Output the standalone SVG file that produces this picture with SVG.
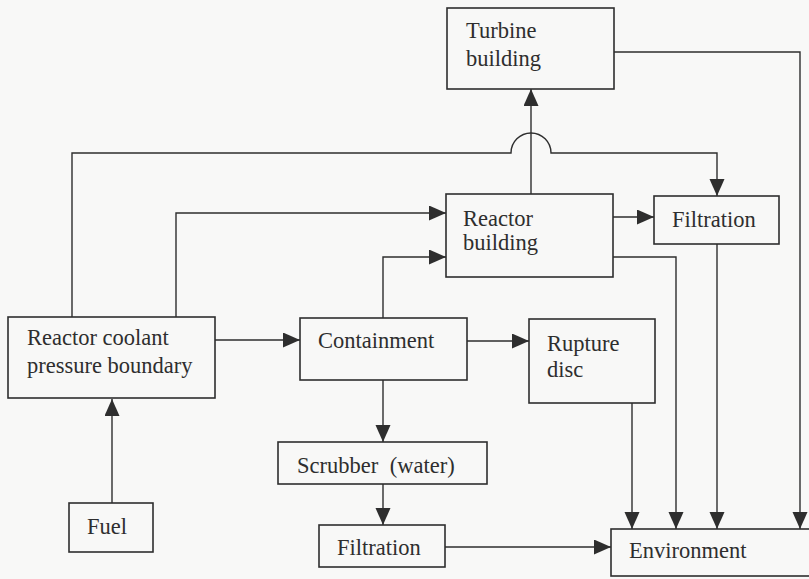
<svg xmlns="http://www.w3.org/2000/svg" width="809" height="579" viewBox="0 0 809 579">
<style>
.box{fill:none;stroke:#2e2e2e;stroke-width:1.6}
.ln{fill:none;stroke:#2e2e2e;stroke-width:1.4}
</style>
<defs>
<marker id="ah" markerUnits="userSpaceOnUse" markerWidth="18" markerHeight="16" refX="17" refY="7.5" orient="auto">
<path d="M0,0 L17,7.5 L0,15 Z" fill="#2e2e2e"/>
</marker>
</defs>
<rect x="0" y="0" width="809" height="579" fill="#f8f8f7"/>
<g id="connectors">
<path class="ln" d="M112,503 V399" marker-end="url(#ah)"/>
<path class="ln" d="M215,340 H300" marker-end="url(#ah)"/>
<path class="ln" d="M72,317 V153 H511 A20,20 0 0 1 551,153 H717 V196" marker-end="url(#ah)"/>
<path class="ln" d="M176,317 V213 H446" marker-end="url(#ah)"/>
<path class="ln" d="M383,318 V257 H446" marker-end="url(#ah)"/>
<path class="ln" d="M531,194 V89" marker-end="url(#ah)"/>
<path class="ln" d="M613,217 H654" marker-end="url(#ah)"/>
<path class="ln" d="M614,52 H800 V529" marker-end="url(#ah)"/>
<path class="ln" d="M613,257 H676 V529" marker-end="url(#ah)"/>
<path class="ln" d="M717,244 V529" marker-end="url(#ah)"/>
<path class="ln" d="M467,341 H529" marker-end="url(#ah)"/>
<path class="ln" d="M632,403 V529" marker-end="url(#ah)"/>
<path class="ln" d="M383,380 V442" marker-end="url(#ah)"/>
<path class="ln" d="M383,484 V525" marker-end="url(#ah)"/>
<path class="ln" d="M445,547 H611" marker-end="url(#ah)"/>
</g>
<g font-family="Liberation Serif, serif" font-size="22.5" fill="#2e2e2e">
<g id="turbine"><rect class="box" x="447" y="8" width="167" height="81"/><text x="466" y="38">Turbine</text><text x="466" y="66">building</text></g>
<g id="reactor-building"><rect class="box" x="446" y="194" width="167" height="83"/><text x="463" y="226">Reactor</text><text x="463" y="250">building</text></g>
<g id="filtration-top"><rect class="box" x="654" y="196" width="125" height="48"/><text x="672" y="227">Filtration</text></g>
<g id="rcpb"><rect class="box" x="8" y="317" width="207" height="81"/><text x="27" y="345">Reactor coolant</text><text x="27" y="373">pressure boundary</text></g>
<g id="containment"><rect class="box" x="300" y="318" width="167" height="62"/><text x="318" y="348">Containment</text></g>
<g id="rupture-disc"><rect class="box" x="529" y="319" width="126" height="84"/><text x="547" y="351">Rupture</text><text x="547" y="377">disc</text></g>
<g id="scrubber"><rect class="box" x="278" y="442" width="209" height="42"/><text x="297" y="473" word-spacing="6">Scrubber (water)</text></g>
<g id="fuel"><rect class="box" x="69" y="503" width="84" height="49"/><text x="87" y="534">Fuel</text></g>
<g id="filtration-bottom"><rect class="box" x="319" y="525" width="126" height="42"/><text x="337" y="555">Filtration</text></g>
<g id="environment"><rect class="box" x="611" y="529" width="205" height="47"/><text x="629" y="558">Environment</text></g>
</g>
</svg>
